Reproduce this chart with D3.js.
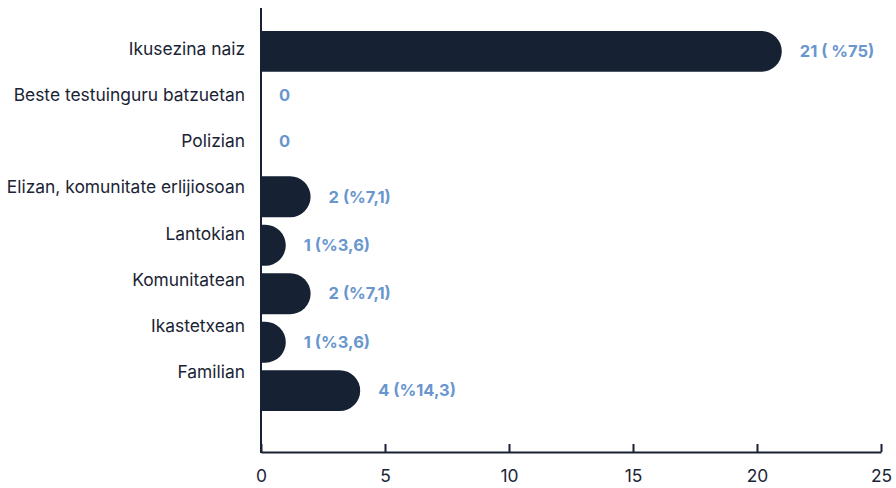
<html>
<head>
<style>
  body { margin: 0; background: #fff; }
  .cat text { font-family: Inter, "Noto Sans", sans-serif; font-size: 17.4px; fill: #1b2436; }
  .xaxis text { font-family: Inter, "Noto Sans", sans-serif; font-size: 17.4px; fill: #1b2436; }
  .vals { font-family: Inter, "Noto Sans", sans-serif; font-size: 16.5px; font-weight: 700; fill: #6a96cf; }
</style>
<script src="https://d3js.org/d3.v7.min.js"></script>
</head>
<body>
<svg width="896" height="488"></svg>
<script>
const categories = ["Ikusezina naiz", "Beste testuinguru batzuetan", "Polizian",
  "Elizan, komunitate erlijiosoan", "Lantokian", "Komunitatean", "Ikastetxean", "Familian"];
const counts = [21, 0, 0, 2, 1, 2, 1, 4];
const valueLabels = ["21 ( %75)", "0", "0", "2 (%7,1)", "1 (%3,6)", "2 (%7,1)", "1 (%3,6)", "4 (%14,3)"];
const xTicks = [0, 5, 10, 15, 20, 25];

const svg = d3.select("svg");
const navy = "#162133";
const plotLeft = 261, plotRight = 881, plotTop = 8, plotBottom = 452;

var xs = d3.scaleLinear().domain([0, 25]).range([plotLeft, plotRight]);
// bars and category labels sit on slightly different bands in the original
var ys = d3.scaleBand().domain(categories).range([27, 415]).paddingInner(0.155).paddingOuter(0.08);
var yl = d3.scaleBand().domain(categories).range([26, 396]);

// bars with rounded right end
function barPath(d) {
  const x0 = xs(0), x1 = xs(d.v), y0 = ys(d.c), h = ys.bandwidth();
  const w = x1 - x0;
  if (w <= 0) return "";
  const r = Math.min(h / 2, w);
  return "M" + x0 + "," + y0 +
    "H" + (x1 - r) +
    "A" + r + "," + r + " 0 0 1 " + x1 + "," + (y0 + r) +
    "V" + (y0 + h - r) +
    "A" + r + "," + r + " 0 0 1 " + (x1 - r) + "," + (y0 + h) +
    "H" + x0 + "Z";
}

const data = categories.map((c, i) => ({c: c, v: counts[i], lab: valueLabels[i]}));

svg.append("g").selectAll("path")
  .data(data).enter().append("path")
  .attr("d", barPath)
  .attr("fill", navy);

// value labels
svg.append("g").selectAll("text")
  .data(data).enter().append("text")
  .attr("class", "vals")
  .attr("x", d => xs(d.v) + 18)
  .attr("y", (d, i) => d.v > 0 ? ys(d.c) + ys.bandwidth() / 2 : yl(d.c) + yl.bandwidth() / 2)
  .attr("dy", "0.35em")
  .text(d => d.lab);

// category labels
const catAxis = svg.append("g").attr("class", "cat")
  .attr("transform", "translate(" + (plotLeft - 16) + ",0)")
  .call(d3.axisLeft(yl).tickSize(0).tickPadding(0));
catAxis.select(".domain").remove();

// bottom axis
const xAxis = svg.append("g").attr("class", "xaxis")
  .attr("transform", "translate(0," + plotBottom + ")")
  .call(d3.axisBottom(xs).tickValues(xTicks).tickSize(-8).tickPadding(18).tickSizeOuter(0));
xAxis.select(".domain").attr("stroke", navy).attr("stroke-width", 2);
xAxis.selectAll(".tick line").attr("stroke", navy).attr("stroke-width", 2);

// left axis line
svg.append("line")
  .attr("x1", plotLeft).attr("x2", plotLeft)
  .attr("y1", plotTop).attr("y2", plotBottom + 1)
  .attr("stroke", navy).attr("stroke-width", 2);
</script>
</body>
</html>
